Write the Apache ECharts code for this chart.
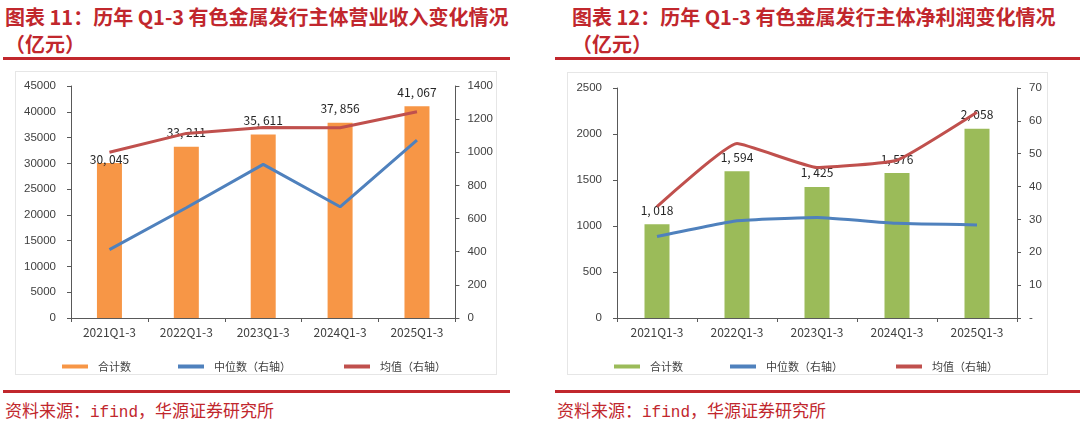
<!DOCTYPE html>
<html lang="zh-CN">
<head>
<meta charset="UTF-8">
<title>历年Q1-3有色金属发行主体营业收入及净利润</title>
<script src="https://cdn.jsdelivr.net/npm/echarts@6/dist/echarts.min.js"></script>
<style>
    html, body { margin: 0; padding: 0; background: #fff; width: 1080px; height: 427px; overflow: hidden; }
    .title {
        position: absolute; top: 3px;
        font-family: "Noto Sans CJK SC", sans-serif; font-weight: 700;
        font-size: 20px; line-height: 27px; color: #c1272d; white-space: nowrap;
    }
    .rule { position: absolute; height: 3px; background: #c1272d; }
    .source {
        position: absolute; top: 398px;
        font-family: "Noto Sans CJK SC", sans-serif; font-size: 17px;
        line-height: 24px; color: #c1272d; white-space: nowrap;
    }
    .source .mono { font-family: "Liberation Mono", monospace; font-size: 16px; }
    .box { position: absolute; border: 1px solid #e6e6e6; box-sizing: border-box; }
</style>
</head>
<body>
<div class="title" style="left:5px;">图表 11：历年 Q1-3 有色金属发行主体营业收入变化情况<br>（亿元）</div>
<div class="rule" style="left:3px; top:57px; width:507px;"></div>
<div class="box" id="revenueChart" style="left:15px; top:71px; width:482px; height:304px;"></div>
<div class="rule" style="left:3px; top:390px; width:507px;"></div>
<div class="source" style="left:5px;">资料来源：<span class="mono">ifind</span>，华源证券研究所</div>

<div class="title" style="left:572px;">图表 12：历年 Q1-3 有色金属发行主体净利润变化情况<br>（亿元）</div>
<div class="rule" style="left:555px; top:57px; width:525px;"></div>
<div class="box" id="profitChart" style="left:567px; top:72px; width:481px; height:303px;"></div>
<div class="rule" style="left:555px; top:390px; width:525px;"></div>
<div class="source" style="left:557px;">资料来源：<span class="mono">ifind</span>，华源证券研究所</div>

<script>
// 数据
const categories = ['2021Q1-3', '2022Q1-3', '2023Q1-3', '2024Q1-3', '2025Q1-3'];
const legendNames = ['合计数', '中位数（右轴）', '均值（右轴）'];

// 营业收入（亿元）
const revenueTotal = [30045, 33211, 35611, 37856, 41067];
const revenueMedian = [413, 665, 927, 671, 1074];
const revenueMean = [1000, 1114, 1150, 1148, 1245];

// 净利润（亿元）
const profitTotal = [1018, 1594, 1425, 1576, 2058];
const profitMedian = [24.8, 29.6, 30.6, 28.8, 28.3];
const profitMean = [33.9, 53.1, 45.8, 48.0, 62.6];

const AXIS_COLOR = '#595959';
const TEXT_COLOR = '#404040';
const BLUE = '#4f81bd';
const RED = '#c0504d';

document.addEventListener('DOMContentLoaded', function () {
    initRevenueChart();
    initProfitChart();
});

// 千分位格式，逗号后留空
function formatThousands(v) {
    return v.toLocaleString('en-US').replace(',', ', ');
}

// 坐标轴刻度不加千分位
function plainNumber(v) {
    return String(v);
}

function buildOption(cfg) {
    const legendLeft = [41, 157, 323];
    return {
        backgroundColor: 'transparent',
        animation: false,
        grid: cfg.grid,
        legend: legendNames.map(function (name, i) {
            return {
                data: [name],
                left: legendLeft[i],
                top: cfg.legendTop,
                icon: 'rect',
                itemWidth: 26,
                itemHeight: 4,
                selectedMode: false,
                textStyle: {
                    color: TEXT_COLOR,
                    fontSize: 11,
                    fontFamily: 'Noto Sans CJK SC',
                    padding: [0, 0, 0, 5]
                }
            };
        }),
        xAxis: {
            type: 'category',
            data: categories,
            axisLine: { lineStyle: { color: AXIS_COLOR } },
            axisTick: { show: true, length: 4, lineStyle: { color: AXIS_COLOR } },
            axisLabel: {
                color: TEXT_COLOR,
                fontSize: 12,
                fontFamily: 'Noto Sans CJK SC',
                margin: 8
            }
        },
        yAxis: [
            {
                type: 'value',
                min: 0,
                max: cfg.leftMax,
                interval: cfg.leftInterval,
                axisLine: { show: true, lineStyle: { color: AXIS_COLOR } },
                axisTick: { show: true, length: 4, lineStyle: { color: AXIS_COLOR } },
                splitLine: { show: false },
                axisLabel: {
                    color: TEXT_COLOR,
                    fontSize: 11.5,
                    fontFamily: 'Liberation Sans',
                    margin: 15,
                    formatter: plainNumber
                }
            },
            {
                type: 'value',
                min: 0,
                max: cfg.rightMax,
                interval: cfg.rightInterval,
                position: 'right',
                axisLine: { show: true, lineStyle: { color: AXIS_COLOR } },
                axisTick: { show: true, length: 4, lineStyle: { color: AXIS_COLOR } },
                splitLine: { show: false },
                axisLabel: {
                    color: TEXT_COLOR,
                    fontSize: 11.5,
                    fontFamily: 'Liberation Sans',
                    margin: 12,
                    formatter: cfg.rightFormatter || plainNumber
                }
            }
        ],
        series: [
            {
                name: legendNames[0],
                type: 'bar',
                barWidth: 25,
                itemStyle: { color: cfg.barColor },
                label: {
                    show: true,
                    position: 'top',
                    distance: 8,
                    color: '#262626',
                    fontSize: 12,
                    fontFamily: 'Noto Sans CJK SC',
                    formatter: function (p) { return formatThousands(p.value); }
                },
                data: cfg.total.map(function (v, i) {
                    // 第一个标签在原图中压低了一些
                    if (cfg.firstLabelOffset && i === 0) {
                        return { value: v, label: { offset: [0, cfg.firstLabelOffset] } };
                    }
                    return v;
                })
            },
            {
                name: legendNames[1],
                type: 'line',
                yAxisIndex: 1,
                symbol: 'none',
                smooth: cfg.smooth,
                itemStyle: { color: BLUE },
                lineStyle: { color: BLUE, width: 3 },
                data: cfg.median
            },
            {
                name: legendNames[2],
                type: 'line',
                yAxisIndex: 1,
                symbol: 'none',
                smooth: cfg.smooth,
                itemStyle: { color: RED },
                lineStyle: { color: RED, width: 3 },
                data: cfg.mean
            }
        ]
    };
}

// 图表11：营业收入
function initRevenueChart() {
    const chartDom = document.getElementById('revenueChart');
    if (!chartDom) return;
    const myChart = echarts.init(chartDom);
    myChart.setOption(buildOption({
        grid: { left: 55, right: 32, top: 14, bottom: 56 },
        legendTop: 284,
        leftMax: 45000,
        leftInterval: 5000,
        rightMax: 1400,
        rightInterval: 200,
        barColor: '#f79646',
        total: revenueTotal,
        median: revenueMedian,
        mean: revenueMean,
        smooth: false,
        firstLabelOffset: 10
    }));
}

// 图表12：净利润
function initProfitChart() {
    const chartDom = document.getElementById('profitChart');
    if (!chartDom) return;
    const myChart = echarts.init(chartDom);
    myChart.setOption(buildOption({
        grid: { left: 49, right: 30, top: 15, bottom: 56 },
        legendTop: 283,
        leftMax: 2500,
        leftInterval: 500,
        rightMax: 70,
        rightInterval: 10,
        rightFormatter: function (v) { return v === 0 ? '-' : String(v); },
        barColor: '#9bbb59',
        total: profitTotal,
        median: profitMedian,
        mean: profitMean,
        smooth: 0.12
    }));
}
</script>
</body>
</html>
